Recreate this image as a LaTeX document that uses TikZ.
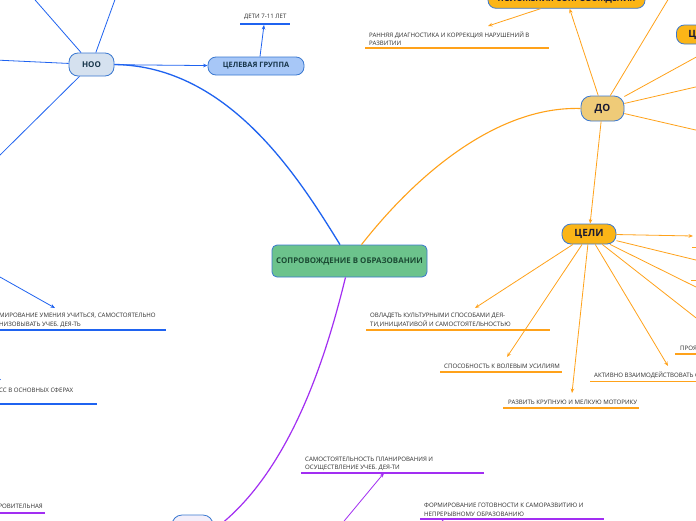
\documentclass[tikz,border=0pt]{standalone}
\usepackage{fontspec}
\setmainfont{Open Sans}
\usetikzlibrary{arrows.meta,calc}
\definecolor{bline}{HTML}{1F63F0}
\definecolor{bord}{HTML}{3A78D0}
\definecolor{oline}{HTML}{FFA21A}
\definecolor{pline}{HTML}{A22EF2}
\definecolor{cgreen}{HTML}{6CC38C}
\definecolor{cgtext}{HTML}{1B4A33}
\definecolor{noofill}{HTML}{D5E1EF}
\definecolor{tgfill}{HTML}{A7C7F7}
\definecolor{dofill}{HTML}{EFCB78}
\definecolor{gold}{HTML}{FBB517}
\definecolor{ooofill}{HTML}{F3EFFA}
\definecolor{ntext}{HTML}{17354A}
\definecolor{dtext}{HTML}{1A1A33}
\definecolor{lbltext}{HTML}{2E2E2E}
\newcommand\mystrut{\rule{0pt}{6pt}}
\begin{document}
\begin{tikzpicture}[x=1pt,y=-1pt,
  mnode/.style={draw=bord, line width=0.8pt, inner sep=0pt, align=center, font=\bfseries},
  lbl/.style={anchor=north west, inner sep=0pt, align=left, text=lbltext, font=\fontsize{6.1}{8.6}\selectfont},
  lblr/.style={lbl, anchor=north east},
  tip/.style={-{Stealth[length=4.5pt,width=3.6pt]}},
  bcon/.style={draw=bline, line width=0.8pt},
  ocon/.style={draw=oline, line width=0.8pt},
  pcon/.style={draw=pline, line width=0.8pt},
  bul/.style={draw=bline, line width=1.7pt},
  oul/.style={draw=oline, line width=1.7pt},
  pul/.style={draw=pline, line width=1.7pt},
]
\useasboundingbox (0,0) rectangle (696,520);
\clip (0,0) rectangle (696,520);
\fill[white] (0,0) rectangle (696,520);

% ---------- main nodes ----------
\node[mnode, fill=cgreen, text=cgtext, minimum width=155pt, minimum height=32pt, rounded corners=5pt,
      font=\bfseries\fontsize{7.9}{9}\selectfont] (central) at (349.5,261) {СОПРОВОЖДЕНИЕ В ОБРАЗОВАНИИ};
\node[mnode, fill=noofill, text=ntext, minimum width=45pt, minimum height=23pt, rounded corners=9pt,
      font=\bfseries\fontsize{8}{9}\selectfont] (noo) at (91.5,64.5) {НОО};
\node[mnode, fill=tgfill, text=ntext, minimum width=96pt, minimum height=18pt, rounded corners=8pt,
      font=\bfseries\fontsize{7.4}{9}\selectfont] (tg) at (256,66) {ЦЕЛЕВАЯ ГРУППА};
\node[mnode, fill=dofill, text=dtext, minimum width=43pt, minimum height=25pt, rounded corners=10pt,
      font=\bfseries\fontsize{10}{12}\selectfont] (do) at (602.5,108.5) {ДО};
\node[mnode, fill=gold, text=dtext, minimum width=54pt, minimum height=20pt, rounded corners=9pt,
      font=\bfseries\fontsize{10}{12}\selectfont] (celi) at (589,234) {ЦЕЛИ};
\node[mnode, fill=gold, text=dtext, minimum width=157pt, minimum height=18pt, rounded corners=8pt,
      font=\bfseries\fontsize{8.3}{10}\selectfont] (pol) at (566.5,-0.7) {ПОЛОЖЕНИЯ СОПРОВОЖДЕНИЯ};
\node[mnode, fill=gold, text=dtext, anchor=west, minimum height=19pt, text width=40pt, align=left,
      inner xsep=12pt, rounded corners=8pt, font=\bfseries\fontsize{10}{12}\selectfont] (cz) at (676,34.5) {Ц};
\node[mnode, fill=ooofill, minimum width=41pt, minimum height=30pt, rounded corners=10pt] (ooo) at (192.5,530) {};

% ---------- labels ----------
\node[lbl] (deti) at (244,12.4) {\mystrut ДЕТИ 7-11 ЛЕТ};
\node[lbl] (rann) at (369,31.1) {\mystrut РАННЯЯ ДИАГНОСТИКА И КОРРЕКЦИЯ НАРУШЕНИЙ В\\РАЗВИТИИ};
\node[lbl] (fu) at (-1,311.7) {\mystrut МИРОВАНИЕ УМЕНИЯ УЧИТЬСЯ, САМОСТОЯТЕЛЬНО\\НИЗОВЫВАТЬ УЧЕБ. ДЕЯ-ТЬ};
\node[lbl] (ss) at (-1,386.7) {\mystrut СС В ОСНОВНЫХ СФЕРАХ};
\node[lblr] (rov) at (43,502.4) {\mystrut РОВИТЕЛЬНАЯ};
\node[lbl] (samost) at (305,455.1) {\mystrut САМОСТОЯТЕЛЬНОСТЬ ПЛАНИРОВАНИЯ И\\ОСУЩЕСТВЛЕНИЕ УЧЕБ. ДЕЯ-ТИ};
\node[lbl] (form) at (424,501.7) {\mystrut ФОРМИРОВАНИЕ ГОТОВНОСТИ К САМОРАЗВИТИЮ И\\НЕПРЕРЫВНОМУ ОБРАЗОВАНИЮ};
\node[lbl] (ovl) at (370,311.7) {\mystrut ОВЛАДЕТЬ КУЛЬТУРНЫМИ СПОСОБАМИ ДЕЯ-\\ТИ,ИНИЦИАТИВОЙ И САМОСТОЯТЕЛЬНОСТЬЮ};
\node[lbl] (spos) at (444,362.4) {\mystrut СПОСОБНОСТЬ К ВОЛЕВЫМ УСИЛИЯМ};
\node[lbl] (razv) at (508,398.4) {\mystrut РАЗВИТЬ КРУПНУЮ И МЕЛКУЮ МОТОРИКУ};
\node[lbl] (akt) at (594,371.1) {\mystrut АКТИВНО ВЗАИМОДЕЙСТВОВАТЬ С};
\node[lbl] (proya) at (680,344.1) {\mystrut ПРОЯВЛЯТЬ};

% ---------- underlines ----------
\draw[bul] (240,23.7) -- (290,23.7);
\draw[bul] (-2,329.7) -- (166,329.7);
\draw[bul] (-2,404.3) -- (97,404.3);
\draw[pul] (-2,513.3) -- (45,513.3);
\draw[pul] (301,472.7) -- (484,472.7);
\draw[pul] (420,519) -- (604,519);
\draw[oul] (365,48.3) -- (549,48.3);
\draw[oul] (366,329.7) -- (550,329.7);
\draw[oul] (440,372) -- (562,372);
\draw[oul] (503,408) -- (639,408);
\draw[oul] (590,381.5) -- (700,381.5);
\draw[oul] (675,354) -- (700,354);
\draw[oul] (692,247.5) -- (700,247.5);
\draw[oul] (691,280.5) -- (700,280.5);

% ---------- free ends ----------
\coordinate (n1) at (29,-7);
\coordinate (n2) at (117,-6);
\coordinate (n3) at (-5,60);
\coordinate (n4) at (-5,160);
\coordinate (d1) at (672,-7);
\coordinate (d2) at (700,55);
\coordinate (d3) at (700,86);
\coordinate (d4) at (700,131);
\coordinate (c1) at (693,236);
\coordinate (c2) at (700,261);
\coordinate (c3) at (700,289);
\coordinate (c4) at (700,321);
\coordinate (p1) at (335,532);
\coordinate (p2) at (441,530);
\coordinate (f1) at (-10,271.4);
\coordinate (s1) at (-10,374);

% ---------- curves to centre ----------
\draw[draw=bline, line width=1.3pt] (noo.east) .. controls (230,66) and (300,180) .. ([xshift=-9.5pt]central.north);
\draw[draw=oline, line width=1.1pt] (do.west) .. controls (500,106) and (420,170) .. ([xshift=12pt]central.north);
\draw[draw=pline, line width=1.2pt] ([xshift=-4pt]central.south) .. controls (330,340) and (295,470) .. (ooo.east);

% ---------- NOO branch ----------
\draw[bcon] (noo) -- (n1);
\draw[bcon] (noo) -- (n2);
\draw[bcon] (noo) -- (n3);
\draw[bcon] (noo) -- (n4);
\draw[bcon, tip] (noo) -- (tg);
\draw[bcon, tip] ([xshift=4pt]tg.north) -- ($(deti.north west)+(20,12.6)$);
\draw[bcon, tip] (f1) -- ($(fu.north west)+(56,-3.7)$);
\draw[bcon, tip] (s1) -- ($(ss.north west)+(2,-6.7)$);

% ---------- DO branch ----------
\draw[ocon, tip] (do) -- (pol);
\draw[ocon, tip] ([xshift=-26pt]pol.south) -- ($(rann.north west)+(119,-5.1)$);
\draw[ocon] (do) -- (d1);
\draw[ocon] (do) -- (d2);
\draw[ocon] (do) -- (d3);
\draw[ocon] (do) -- (d4);
\draw[ocon, tip] (do) -- (celi);

% ---------- CELI branch ----------
\draw[ocon, tip] (celi) -- (c1);
\draw[ocon] (celi) -- (c2);
\draw[ocon] (celi) -- (c3);
\draw[ocon] (celi) -- (c4);
\draw[ocon, tip] (celi) -- ($(ovl.north west)+(105,-3.7)$);
\draw[ocon, tip] (celi) -- ($(spos.north west)+(63,-5.4)$);
\draw[ocon, tip] (celi) -- ($(razv.north west)+(64,-5.4)$);
\draw[ocon, tip] (celi) -- ($(akt.north west)+(74,-5.1)$);

% ---------- purple branch ----------
\draw[pcon, tip] (p1) -- ($(samost.north west)+(79,17.9)$);
\draw[pcon, tip] (p2) -- ($(form.north west)+(19,17.3)$);
\end{tikzpicture}
\end{document}
